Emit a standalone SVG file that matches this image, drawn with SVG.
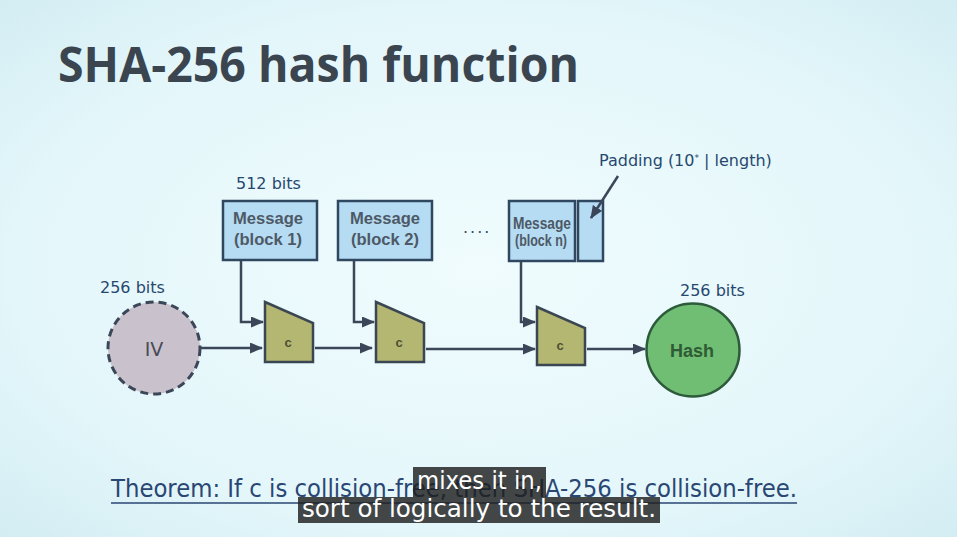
<svg xmlns="http://www.w3.org/2000/svg" width="957" height="537" viewBox="0 0 957 537">
<defs>
<radialGradient id="bg" cx="50%" cy="50%" r="70%">
<stop offset="0" stop-color="#f0fcfe"/>
<stop offset="0.7" stop-color="#e3f6fa"/>
<stop offset="1" stop-color="#d3edf3"/>
</radialGradient>
<marker id="ah" markerUnits="userSpaceOnUse" markerWidth="13" markerHeight="11" refX="12" refY="5.5" orient="auto" viewBox="0 0 13 11">
<path d="M0,0 L13,5.5 L0,11 z" fill="#3b4759"/>
</marker>
<style>
.lbl{font-family:"DejaVu Sans",Verdana,sans-serif;fill:#27486e;font-size:16px}
.msg{fill:#b6dcf3;stroke:#2f475f;stroke-width:2.5}
.mt{font-family:"Liberation Sans",Arial,sans-serif;font-weight:bold;fill:#4d5966;font-size:16px;text-anchor:middle}
.cf{fill:#b4b772;stroke:#3a4652;stroke-width:2.5}
.ct{font-family:"Liberation Sans",Arial,sans-serif;font-weight:bold;fill:#4f4f33;font-size:13px;text-anchor:middle}
.con{fill:none;stroke:#3b4759;stroke-width:2.5;marker-end:url(#ah)}
.sub{fill:#1f1f1f;fill-opacity:0.82}
.st{font-family:"DejaVu Sans",sans-serif;fill:#ffffff;font-size:24px}
</style>
</defs>
<rect width="957" height="537" fill="url(#bg)"/>
<text x="58" y="82" font-family="Open Sans,DejaVu Sans,sans-serif" font-weight="700" font-size="49" fill="#3a4550" textLength="521" lengthAdjust="spacingAndGlyphs">SHA-256 hash function</text>

<text class="lbl" x="236" y="189">512 bits</text>
<text class="lbl" x="100" y="293">256 bits</text>
<text class="lbl" x="680" y="296">256 bits</text>
<text class="lbl" x="599" y="166" font-size="14.5">Padding  (10<tspan font-size="9" dy="-5">*</tspan><tspan dy="5"> | length)</tspan></text>
<text x="463" y="233" font-family="DejaVu Sans,sans-serif" font-size="16" fill="#3b4759" letter-spacing="2">....</text>

<g id="iv">
<circle cx="154" cy="348" r="46" fill="#c9c1cc" stroke="#3b4759" stroke-width="3" stroke-dasharray="8,5"/>
<text x="154" y="356" font-family="DejaVu Sans,sans-serif" font-size="19" fill="#4a4a56" text-anchor="middle">IV</text>
</g>
<g id="m1">
<rect class="msg" x="223" y="201" width="94" height="59"/>
<text class="mt" x="268" y="224" textLength="70" lengthAdjust="spacingAndGlyphs">Message</text>
<text class="mt" x="268" y="245" textLength="68" lengthAdjust="spacingAndGlyphs">(block 1)</text>
</g>
<g id="m2">
<rect class="msg" x="338" y="201" width="94" height="59"/>
<text class="mt" x="385" y="224" textLength="70" lengthAdjust="spacingAndGlyphs">Message</text>
<text class="mt" x="385" y="245" textLength="68" lengthAdjust="spacingAndGlyphs">(block 2)</text>
</g>
<g id="mn">
<rect class="msg" x="509" y="201" width="66" height="60"/>
<text class="mt" x="542" y="229" font-size="12.5" textLength="58" lengthAdjust="spacingAndGlyphs">Message</text>
<text class="mt" x="541" y="246" font-size="12.5" textLength="52" lengthAdjust="spacingAndGlyphs">(block n)</text>
</g>
<g id="pad">
<rect class="msg" x="578" y="201" width="25" height="60"/>
</g>
<g id="c1">
<polygon class="cf" points="265,302 313,323 313,362 265,362"/>
<text class="ct" x="288" y="347">c</text>
</g>
<g id="c2">
<polygon class="cf" points="376,302 424,323 424,362 376,362"/>
<text class="ct" x="399" y="347">c</text>
</g>
<g id="c3">
<polygon class="cf" points="537,307 585,328 585,365 537,365"/>
<text class="ct" x="560" y="350">c</text>
</g>
<g id="hash">
<circle cx="693" cy="350" r="46.5" fill="#70be73" stroke="#2e5a3c" stroke-width="2.5"/>
<text x="692" y="357" font-family="Liberation Sans,Arial,sans-serif" font-weight="bold" font-size="18" fill="#2f5a33" text-anchor="middle">Hash</text>
</g>

<g id="connectors">
<path class="con" d="M201,348 H262"/>
<path class="con" d="M315,348 H372"/>
<path class="con" d="M426,349 H535"/>
<path class="con" d="M587,349 H645"/>
<path class="con" d="M241,261 V322 H263"/>
<path class="con" d="M354,261 V322 H374"/>
<path class="con" d="M521,262 V322 H535"/>
<path class="con" d="M618,176 L591,218"/>
</g>

<g id="theorem">
<text x="111" y="497" font-family="DejaVu Sans Condensed,DejaVu Sans,sans-serif" font-size="25" fill="#2a4673" textLength="686" lengthAdjust="spacingAndGlyphs">Theorem:  If c is collision-free, then SHA-256 is collision-free.</text>
<line x1="111" y1="503" x2="797" y2="503" stroke="#2a4673" stroke-width="1.5"/>
</g>
<g id="subtitle">
<rect class="sub" x="413" y="467" width="133" height="30"/>
<rect class="sub" x="298" y="497" width="362" height="26"/>
<text class="st" x="417" y="489" textLength="125" lengthAdjust="spacingAndGlyphs">mixes it in,</text>
<text class="st" x="302" y="517" textLength="354" lengthAdjust="spacingAndGlyphs">sort of logically to the result.</text>
</g>
</svg>
